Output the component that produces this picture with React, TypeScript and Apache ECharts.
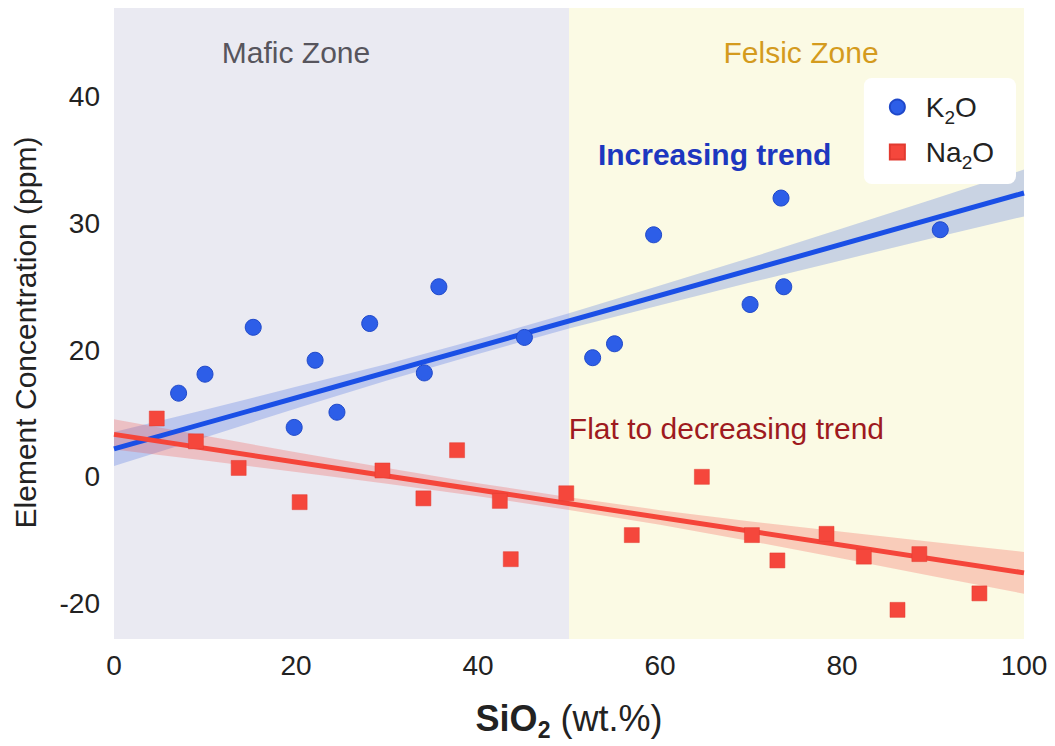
import React, { useEffect, useRef } from "react";
import * as echarts from "echarts";

const FONT = "'Liberation Sans', Arial, Helvetica, sans-serif";

// Values are in axis-position units (the axis labels below relabel the ticks as in the reference)
const k2oX = [7.1, 10.0, 15.3, 19.8, 22.1, 24.5, 28.1, 34.1, 35.7, 45.1, 52.6, 55.0, 59.3, 69.9, 73.3, 73.6, 90.8];
const k2oY = [16.6, 18.1, 21.8, 13.9, 19.2, 15.1, 22.1, 18.2, 25.0, 21.0, 19.4, 20.5, 29.1, 23.6, 32.0, 25.0, 29.5];

const na2oX = [4.7, 9.0, 13.7, 20.4, 29.5, 34.0, 37.7, 42.4, 43.6, 49.7, 56.9, 64.6, 70.1, 72.9, 78.3, 82.4, 86.1, 88.5, 95.1];
const na2oY = [14.6, 12.8, 10.7, 8.0, 10.5, 8.3, 12.1, 8.1, 3.5, 8.7, 5.4, 10.0, 5.4, 3.4, 5.5, 3.7, -0.5, 3.9, 0.8];

const trendX = [0, 100];
const k2oTrendY = [12.2, 32.4];
const na2oTrendY = [13.35, 2.42];

const bandX = [0, 10, 20, 30, 40, 50, 60, 70, 80, 90, 100];
const k2oBandLo = [10.86, 13.1, 15.4, 17.6, 19.7, 21.7, 23.55, 25.35, 27.1, 28.85, 30.55];
const k2oBandHi = [13.54, 15.3, 17.1, 18.9, 20.85, 22.9, 25.1, 27.3, 29.6, 31.9, 34.25];
const na2oBandLo = [12.15, 11.28, 10.38, 9.45, 8.46, 7.39, 6.21, 4.92, 3.56, 2.16, 0.77];
const na2oBandHi = [14.55, 13.24, 11.94, 10.69, 9.5, 8.39, 7.37, 6.48, 5.66, 4.86, 4.07];

const yTickValues = [0, 10, 20, 30, 40];
const yTickLabels = ["-20", "0", "20", "30", "40"];

const zoneNames = ["Mafic Zone", "Felsic Zone"];
const zoneFrom = [0, 50];
const zoneTo = [50, 100];

const annotationTexts = ["Mafic Zone", "Felsic Zone", "Increasing trend", "Flat to decreasing trend"];
const annotationX = [20, 75.5, 66, 67.3];
const annotationY = [43.5, 43.5, 35.4, 13.85];

const zoneColors = ["#eaeaf2", "#fbfae4"];
const annotationColors = ["#57555d", "#d49b1e", "#1d37bf", "#9e1a20"];
const annotationBold = [false, false, true, false];

function bandSeries(id: string, lo: number[], hi: number[], color: string) {
  return {
    type: "custom",
    name: id,
    silent: true,
    z: 1,
    data: bandX.map((x, i) => [x, lo[i], hi[i]]),
    encode: { x: 0, y: [1, 2] },
    renderItem: (params: any, api: any) => {
      if (params.dataIndex !== 0) return { type: "group", children: [] };
      const upper = bandX.map((x, i) => api.coord([x, hi[i]]));
      const lower = bandX.map((x, i) => api.coord([x, lo[i]])).reverse();
      return {
        type: "polygon",
        shape: { points: upper.concat(lower) },
        style: { fill: color, stroke: "none" },
      };
    },
  };
}

export default function App() {
  const ref = useRef<HTMLDivElement>(null);
  useEffect(() => {
    document.body.style.margin = "0";
    const chart = echarts.init(ref.current!, null, { renderer: "svg" });
    const option: any = {
      animation: false,
      backgroundColor: "#ffffff",
      textStyle: { fontFamily: FONT },
      grid: { left: 114, right: 31, top: 8, bottom: 107, containLabel: false },
      legend: {
        orient: "vertical",
        right: 39,
        top: 78,
        backgroundColor: "#ffffff",
        borderRadius: 8,
        padding: [15, 22, 12, 25],
        itemGap: 11,
        itemWidth: 15,
        itemHeight: 15,
        data: [
          { name: "K2O", icon: "circle" },
          { name: "Na2O", icon: "rect" },
        ],
        formatter: (name: string) =>
          name === "K2O" ? "{n|K}{s|2}{n|O}" : "{n|Na}{s|2}{n|O}",
        textStyle: {
          padding: [0, 0, 0, 16],
          rich: {
            n: { fontSize: 28, color: "#222222", fontFamily: FONT, lineHeight: 40, verticalAlign: "middle" },
            s: { fontSize: 19, color: "#222222", fontFamily: FONT, lineHeight: 40, verticalAlign: "bottom" },
          },
        },
      },
      xAxis: {
        type: "value",
        min: 0,
        max: 100,
        interval: 20,
        axisLine: { show: false },
        axisTick: { show: false },
        splitLine: { show: false },
        axisLabel: { fontSize: 28, color: "#222222", margin: 12, fontFamily: FONT },
        name: "{b|SiO}{bs|2}{r| (wt.%)}",
        nameLocation: "middle",
        nameGap: 56,
        nameTextStyle: {
          rich: {
            b: { fontSize: 36, fontWeight: "bold", color: "#222222", fontFamily: FONT, lineHeight: 46, verticalAlign: "middle" },
            bs: { fontSize: 23, fontWeight: "bold", color: "#222222", fontFamily: FONT, lineHeight: 46, verticalAlign: "bottom" },
            r: { fontSize: 36, color: "#222222", fontFamily: FONT, lineHeight: 46, verticalAlign: "middle" },
          },
        },
      },
      yAxis: {
        type: "value",
        min: -2.8,
        max: 47,
        axisLine: { show: false },
        axisTick: { show: false },
        splitLine: { show: false },
        axisLabel: {
          customValues: yTickValues,
          formatter: (v: number) => {
            const i = yTickValues.indexOf(v);
            return i >= 0 ? yTickLabels[i] : "";
          },
          fontSize: 28,
          color: "#222222",
          margin: 14,
          fontFamily: FONT,
        },
        name: "Element Concentration (ppm)",
        nameLocation: "middle",
        nameRotate: 90,
        nameGap: 74,
        nameTextStyle: { fontSize: 30, color: "#222222", fontFamily: FONT, padding: [0, 18, 0, 0] },
      },
      series: [
        {
          type: "line",
          name: "zones",
          data: [],
          z: 0,
          silent: true,
          markArea: {
            silent: true,
            label: { show: false },
            data: zoneNames.map((n, i) => [
              { name: n, xAxis: zoneFrom[i], itemStyle: { color: zoneColors[i], opacity: 1 } },
              { xAxis: zoneTo[i] },
            ]),
          },
        },
        bandSeries("kband", k2oBandLo, k2oBandHi, "rgba(50,95,225,0.25)"),
        bandSeries("nband", na2oBandLo, na2oBandHi, "rgba(245,75,65,0.26)"),
        {
          type: "line",
          name: "K2O trend",
          data: trendX.map((x, i) => [x, k2oTrendY[i]]),
          symbol: "none",
          lineStyle: { color: "#1a4fe6", width: 5 },
          silent: true,
          z: 2,
        },
        {
          type: "line",
          name: "Na2O trend",
          data: trendX.map((x, i) => [x, na2oTrendY[i]]),
          symbol: "none",
          lineStyle: { color: "#f5453a", width: 5 },
          silent: true,
          z: 2,
        },
        {
          type: "scatter",
          name: "K2O",
          data: k2oX.map((x, i) => [x, k2oY[i]]),
          symbol: "circle",
          symbolSize: 16,
          itemStyle: { color: "#2d5ee8", borderColor: "#1f48c9", borderWidth: 1, opacity: 1 },
          z: 3,
        },
        {
          type: "scatter",
          name: "Na2O",
          data: na2oX.map((x, i) => [x, na2oY[i]]),
          symbol: "rect",
          symbolSize: 15,
          itemStyle: { color: "#f5473c", borderColor: "#e23a30", borderWidth: 0.5, opacity: 1 },
          z: 3,
        },
        {
          type: "scatter",
          name: "annotations",
          symbolSize: 0,
          silent: true,
          z: 4,
          itemStyle: { opacity: 1 },
          data: annotationTexts.map((t, i) => ({
            value: [annotationX[i], annotationY[i]],
            label: {
              show: true,
              formatter: t,
              position: "inside",
              align: "center",
              verticalAlign: "middle",
              color: annotationColors[i],
              opacity: 1,
              fontSize: 30,
              fontWeight: annotationBold[i] ? "bold" : "normal",
              fontFamily: FONT,
            },
          })),
        },
      ],
    };
    chart.setOption(option);
    return () => chart.dispose();
  }, []);
  return <div ref={ref} style={{ width: 1055, height: 746 }} />;
}
